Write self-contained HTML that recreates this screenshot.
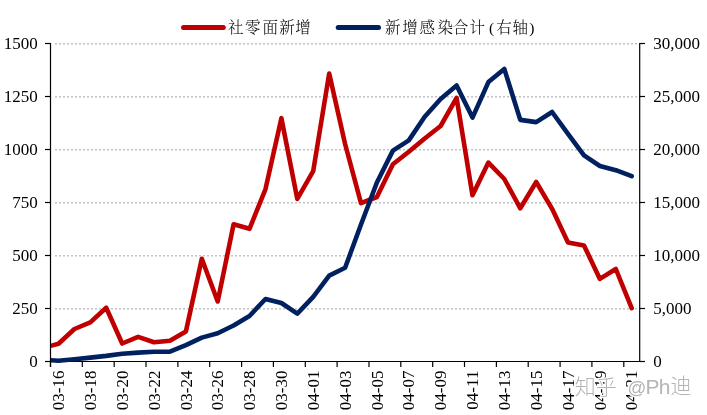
<!DOCTYPE html>
<html><head><meta charset="utf-8"><style>
html,body{margin:0;padding:0;background:#fff;}
body{width:707px;height:415px;overflow:hidden;}
svg{display:block;}
.n{font-family:"Liberation Serif","Noto Serif CJK SC",serif;font-size:17px;fill:#000;}
.c{font-family:"Liberation Serif","Noto Serif CJK SC",serif;font-size:15.5px;font-weight:300;fill:#000;}
.wm{font-family:"Liberation Sans","Noto Sans CJK SC",sans-serif;font-size:21px;font-weight:300;fill:#b4b4b4;stroke:#fff;stroke-width:2.6px;paint-order:stroke;stroke-linejoin:round;}
</style></head><body>
<svg width="707" height="415" viewBox="0 0 707 415">
<line x1="55" y1="308.8" x2="637" y2="308.8" stroke="#C4C4C4" stroke-width="1.6" stroke-dasharray="2 2"/>
<line x1="55" y1="255.8" x2="637" y2="255.8" stroke="#C4C4C4" stroke-width="1.6" stroke-dasharray="2 2"/>
<line x1="55" y1="202.8" x2="637" y2="202.8" stroke="#C4C4C4" stroke-width="1.6" stroke-dasharray="2 2"/>
<line x1="55" y1="149.8" x2="637" y2="149.8" stroke="#C4C4C4" stroke-width="1.6" stroke-dasharray="2 2"/>
<line x1="55" y1="96.8" x2="637" y2="96.8" stroke="#C4C4C4" stroke-width="1.6" stroke-dasharray="2 2"/>
<line x1="55" y1="43.8" x2="637" y2="43.8" stroke="#C4C4C4" stroke-width="1.6" stroke-dasharray="2 2"/>
<line x1="50.5" y1="43.0" x2="50.5" y2="367.0" stroke="#000" stroke-width="1.2"/>
<line x1="639.7" y1="43.0" x2="639.7" y2="362.0" stroke="#000" stroke-width="1.2"/>
<line x1="45" y1="361.5" x2="645" y2="361.5" stroke="#000" stroke-width="1.2"/>
<line x1="45" y1="361.5" x2="50.5" y2="361.5" stroke="#000" stroke-width="1.2"/>
<line x1="639.7" y1="361.5" x2="645" y2="361.5" stroke="#000" stroke-width="1.2"/>
<line x1="45" y1="308.5" x2="50.5" y2="308.5" stroke="#000" stroke-width="1.2"/>
<line x1="639.7" y1="308.5" x2="645" y2="308.5" stroke="#000" stroke-width="1.2"/>
<line x1="45" y1="255.5" x2="50.5" y2="255.5" stroke="#000" stroke-width="1.2"/>
<line x1="639.7" y1="255.5" x2="645" y2="255.5" stroke="#000" stroke-width="1.2"/>
<line x1="45" y1="202.5" x2="50.5" y2="202.5" stroke="#000" stroke-width="1.2"/>
<line x1="639.7" y1="202.5" x2="645" y2="202.5" stroke="#000" stroke-width="1.2"/>
<line x1="45" y1="149.5" x2="50.5" y2="149.5" stroke="#000" stroke-width="1.2"/>
<line x1="639.7" y1="149.5" x2="645" y2="149.5" stroke="#000" stroke-width="1.2"/>
<line x1="45" y1="96.5" x2="50.5" y2="96.5" stroke="#000" stroke-width="1.2"/>
<line x1="639.7" y1="96.5" x2="645" y2="96.5" stroke="#000" stroke-width="1.2"/>
<line x1="45" y1="43.5" x2="50.5" y2="43.5" stroke="#000" stroke-width="1.2"/>
<line x1="639.7" y1="43.5" x2="645" y2="43.5" stroke="#000" stroke-width="1.2"/>
<line x1="50.5" y1="361.5" x2="50.5" y2="367.0" stroke="#000" stroke-width="1.2"/>
<line x1="82.3" y1="361.5" x2="82.3" y2="367.0" stroke="#000" stroke-width="1.2"/>
<line x1="114.2" y1="361.5" x2="114.2" y2="367.0" stroke="#000" stroke-width="1.2"/>
<line x1="146.0" y1="361.5" x2="146.0" y2="367.0" stroke="#000" stroke-width="1.2"/>
<line x1="177.9" y1="361.5" x2="177.9" y2="367.0" stroke="#000" stroke-width="1.2"/>
<line x1="209.7" y1="361.5" x2="209.7" y2="367.0" stroke="#000" stroke-width="1.2"/>
<line x1="241.6" y1="361.5" x2="241.6" y2="367.0" stroke="#000" stroke-width="1.2"/>
<line x1="273.4" y1="361.5" x2="273.4" y2="367.0" stroke="#000" stroke-width="1.2"/>
<line x1="305.3" y1="361.5" x2="305.3" y2="367.0" stroke="#000" stroke-width="1.2"/>
<line x1="337.1" y1="361.5" x2="337.1" y2="367.0" stroke="#000" stroke-width="1.2"/>
<line x1="369.0" y1="361.5" x2="369.0" y2="367.0" stroke="#000" stroke-width="1.2"/>
<line x1="400.8" y1="361.5" x2="400.8" y2="367.0" stroke="#000" stroke-width="1.2"/>
<line x1="432.7" y1="361.5" x2="432.7" y2="367.0" stroke="#000" stroke-width="1.2"/>
<line x1="464.5" y1="361.5" x2="464.5" y2="367.0" stroke="#000" stroke-width="1.2"/>
<line x1="496.4" y1="361.5" x2="496.4" y2="367.0" stroke="#000" stroke-width="1.2"/>
<line x1="528.2" y1="361.5" x2="528.2" y2="367.0" stroke="#000" stroke-width="1.2"/>
<line x1="560.1" y1="361.5" x2="560.1" y2="367.0" stroke="#000" stroke-width="1.2"/>
<line x1="591.9" y1="361.5" x2="591.9" y2="367.0" stroke="#000" stroke-width="1.2"/>
<line x1="623.8" y1="361.5" x2="623.8" y2="367.0" stroke="#000" stroke-width="1.2"/>
<text x="37.8" y="367.3" text-anchor="end" class="n">0</text>
<text x="653.3" y="367.3" class="n">0</text>
<text x="37.8" y="314.3" text-anchor="end" class="n">250</text>
<text x="653.3" y="314.3" class="n">5,000</text>
<text x="37.8" y="261.3" text-anchor="end" class="n">500</text>
<text x="653.3" y="261.3" class="n">10,000</text>
<text x="37.8" y="208.3" text-anchor="end" class="n">750</text>
<text x="653.3" y="208.3" class="n">15,000</text>
<text x="37.8" y="155.3" text-anchor="end" class="n">1000</text>
<text x="653.3" y="155.3" class="n">20,000</text>
<text x="37.8" y="102.3" text-anchor="end" class="n">1250</text>
<text x="653.3" y="102.3" class="n">25,000</text>
<text x="37.8" y="49.3" text-anchor="end" class="n">1500</text>
<text x="653.3" y="49.3" class="n">30,000</text>
<text transform="translate(64.1,370.6) rotate(-90)" text-anchor="end" class="n">03-16</text>
<text transform="translate(95.9,370.6) rotate(-90)" text-anchor="end" class="n">03-18</text>
<text transform="translate(127.8,370.6) rotate(-90)" text-anchor="end" class="n">03-20</text>
<text transform="translate(159.6,370.6) rotate(-90)" text-anchor="end" class="n">03-22</text>
<text transform="translate(191.5,370.6) rotate(-90)" text-anchor="end" class="n">03-24</text>
<text transform="translate(223.3,370.6) rotate(-90)" text-anchor="end" class="n">03-26</text>
<text transform="translate(255.1,370.6) rotate(-90)" text-anchor="end" class="n">03-28</text>
<text transform="translate(287.0,370.6) rotate(-90)" text-anchor="end" class="n">03-30</text>
<text transform="translate(318.8,370.6) rotate(-90)" text-anchor="end" class="n">04-01</text>
<text transform="translate(350.7,370.6) rotate(-90)" text-anchor="end" class="n">04-03</text>
<text transform="translate(382.5,370.6) rotate(-90)" text-anchor="end" class="n">04-05</text>
<text transform="translate(414.4,370.6) rotate(-90)" text-anchor="end" class="n">04-07</text>
<text transform="translate(446.2,370.6) rotate(-90)" text-anchor="end" class="n">04-09</text>
<text transform="translate(478.1,370.6) rotate(-90)" text-anchor="end" class="n">04-11</text>
<text transform="translate(509.9,370.6) rotate(-90)" text-anchor="end" class="n">04-13</text>
<text transform="translate(541.8,370.6) rotate(-90)" text-anchor="end" class="n">04-15</text>
<text transform="translate(573.6,370.6) rotate(-90)" text-anchor="end" class="n">04-17</text>
<text transform="translate(605.5,370.6) rotate(-90)" text-anchor="end" class="n">04-19</text>
<text transform="translate(637.3,370.6) rotate(-90)" text-anchor="end" class="n">04-21</text>
<defs><clipPath id="pc"><rect x="51.1" y="30" width="588" height="340"/></clipPath></defs>
<g clip-path="url(#pc)">
<polyline points="50.5,345.9 58.5,343.8 74.4,329.0 90.3,322.4 106.2,307.8 122.2,343.5 138.1,336.9 154.0,342.3 169.9,340.8 185.9,331.5 201.8,258.8 217.7,301.5 233.6,224.3 249.5,228.8 265.5,189.1 281.4,118.2 297.3,198.9 313.2,171.2 329.2,73.5 345.1,144.0 361.0,203.2 376.9,197.0 392.9,164.3 408.8,151.8 424.7,138.5 440.6,126.0 456.6,97.8 472.5,195.3 488.4,162.6 504.3,179.0 520.3,208.3 536.2,182.0 552.1,208.8 568.0,242.4 584.0,245.5 599.9,278.9 615.8,269.0 631.7,308.2" fill="none" stroke="#C00000" stroke-width="4.6" stroke-linejoin="round" stroke-linecap="round"/>
<polyline points="50.5,360.2 58.5,360.7 74.4,359.3 90.3,357.6 106.2,355.9 122.2,353.7 138.1,352.6 154.0,351.7 169.9,351.6 185.9,345.1 201.8,337.6 217.7,333.3 233.6,325.5 249.5,316.0 265.5,299.0 281.4,303.0 297.3,313.6 313.2,296.8 329.2,275.6 345.1,267.8 361.0,224.5 376.9,182.5 392.9,150.6 408.8,140.4 424.7,116.8 440.6,99.0 456.6,85.5 472.5,117.6 488.4,82.1 504.3,68.9 520.3,119.9 536.2,122.1 552.1,112.0 568.0,133.8 584.0,155.4 599.9,166.0 615.8,170.2 631.7,176.2" fill="none" stroke="#002060" stroke-width="4.6" stroke-linejoin="round" stroke-linecap="round"/>
</g>
<line x1="183.5" y1="27.5" x2="223.3" y2="27.5" stroke="#C00000" stroke-width="5" stroke-linecap="round"/>
<text x="228 245 262.5 279.3 295.3" y="33" class="c">社零面新增</text>
<line x1="338.2" y1="27.5" x2="378.5" y2="27.5" stroke="#002060" stroke-width="5" stroke-linecap="round"/>
<text x="385 402.2 419.4 437.6 452.8 469.6" y="33" class="c">新增感染合计</text>
<text x="489" y="33" class="c">(</text>
<text x="496.2 512.6" y="33" class="c">右轴</text>
<text x="529.3" y="33" class="c">)</text>
<text y="394.3" class="wm"><tspan x="574.8 595.8">知乎</tspan><tspan x="627.5" font-size="18.5">@</tspan><tspan x="645.5 658.8">Ph</tspan><tspan x="670.5" y="393.3">迪</tspan></text>
</svg>
</body></html>
